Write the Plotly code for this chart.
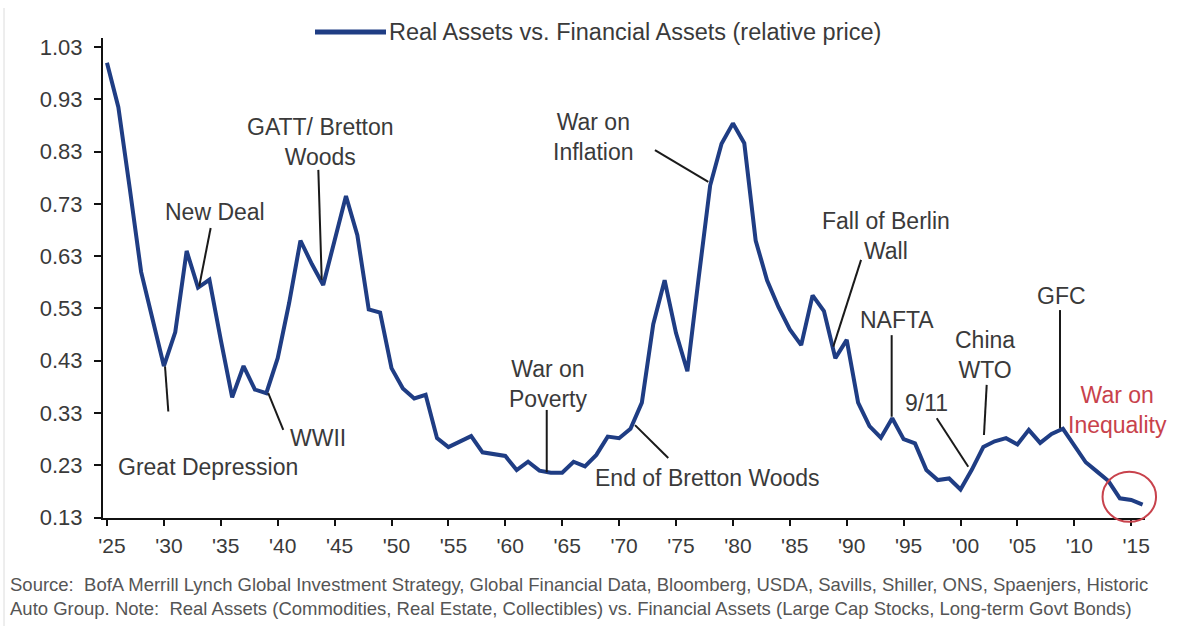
import plotly.graph_objects as go

# Relative price of real assets vs. financial assets, annual
years = list(range(1925, 2017))
relative_price = [
    1.00, 0.915, 0.76, 0.60, 0.51, 0.42, 0.485, 0.64, 0.57, 0.585,   # 1925-1934
    0.47, 0.36, 0.42, 0.375, 0.368, 0.435, 0.54, 0.66, 0.615, 0.575,  # 1935-1944
    0.66, 0.745, 0.67, 0.528, 0.522, 0.416, 0.377, 0.358, 0.365, 0.282,  # 1945-1954
    0.265, 0.275, 0.286, 0.255, 0.252, 0.248, 0.221, 0.237, 0.22, 0.216,  # 1955-1964
    0.216, 0.237, 0.228, 0.25, 0.285, 0.282, 0.30, 0.35, 0.50, 0.584,  # 1965-1974
    0.483, 0.41, 0.59, 0.765, 0.845, 0.884, 0.846, 0.66, 0.584, 0.533,  # 1975-1984
    0.49, 0.46, 0.555, 0.525, 0.435, 0.47, 0.35, 0.305, 0.283, 0.32,  # 1985-1994
    0.28, 0.272, 0.221, 0.202, 0.205, 0.184, 0.222, 0.265, 0.276, 0.282,  # 1995-2004
    0.27, 0.298, 0.273, 0.29, 0.30, 0.268, 0.236, 0.218, 0.20, 0.167,  # 2005-2014
    0.164, 0.155,  # 2015-2016
]
series_name = "Real Assets vs. Financial Assets (relative price)"

y_ticks = [0.13, 0.23, 0.33, 0.43, 0.53, 0.63, 0.73, 0.83, 0.93, 1.03]
x_ticks = list(range(1925, 2016, 5))
x_tick_labels = ["'25", "'30", "'35", "'40", "'45", "'50", "'55", "'60", "'65", "'70",
                 "'75", "'80", "'85", "'90", "'95", "'00", "'05", "'10", "'15"]

# Event labels: text, text anchor (year, value), leader line from -> to
events = [
    ("New Deal", (1934.5, 0.7145), (1934.11, 0.684), (1933.10, 0.572)),
    ("GATT/ Bretton<br>Woods", (1943.72, 0.849), (1943.57, 0.795), (1943.87, 0.585)),
    ("Great Depression", (1933.9, 0.227), (1930.39, 0.333), (1930.10, 0.419)),
    ("WWII", (1943.57, 0.282), (1940.49, 0.298), (1939.17, 0.368)),
    ("War on<br>Poverty", (1963.78, 0.385), (1963.64, 0.336), (1963.64, 0.217)),
    ("War on<br>Inflation", (1967.73, 0.857), (1973.15, 0.833), (1977.84, 0.772)),
    ("End of Bretton Woods", (1977.81, 0.205), (1971.40, 0.307), (1974.32, 0.244)),
    ("Fall of Berlin<br>Wall", (1993.41, 0.668), (1991.26, 0.623), (1988.82, 0.457)),
    ("NAFTA", (1994.44, 0.508), (1993.95, 0.479), (1993.95, 0.323)),
    ("9/11", (1997.03, 0.350), (1997.91, 0.320), (2000.68, 0.2275)),
    ("China<br>WTO", (2002.15, 0.441), (2002.30, 0.384), (2002.06, 0.288)),
    ("GFC", (2008.89, 0.553), (2008.74, 0.527), (2008.74, 0.301)),
]
highlight_label = "War on<br>Inequality"

LINE_COLOR = "#1f3d84"
TEXT_COLOR = "#3a3a3a"
RED = "#c8424c"
FONT = "Liberation Sans, Arial, sans-serif"
LABEL_SIZE = 23

X_RANGE = [1924.65, 2016.21]
Y_RANGE = [0.1294, 1.0472]

fig = go.Figure()
fig.add_trace(go.Scatter(
    x=years, y=relative_price, mode="lines", name=series_name,
    line=dict(color=LINE_COLOR, width=4), showlegend=False,
))

annotations = []
shapes = []
for text, (tx, ty), (x0, y0), (x1, y1) in events:
    annotations.append(dict(x=tx, y=ty, xref="x", yref="y", text=text, showarrow=False,
                            font=dict(family=FONT, size=LABEL_SIZE, color=TEXT_COLOR),
                            xanchor="center", yanchor="middle"))
    shapes.append(dict(type="line", xref="x", yref="y", x0=x0, y0=y0, x1=x1, y1=y1,
                       line=dict(color="#1a1a1a", width=2)))

annotations.append(dict(x=2013.78, y=0.3365, xref="x", yref="y", text=highlight_label,
                        showarrow=False, font=dict(family=FONT, size=LABEL_SIZE, color=RED),
                        xanchor="center", yanchor="middle"))


def to_paper_x(v):
    return (v - X_RANGE[0]) / (X_RANGE[1] - X_RANGE[0])


def to_paper_y(v):
    return (v - Y_RANGE[0]) / (Y_RANGE[1] - Y_RANGE[0])


# Circle around the latest readings (paper refs so it may cross the axis)
cx, cy, rx, ry = 2014.83, 0.170, 2.35, 0.048
shapes.append(dict(type="circle", xref="paper", yref="paper",
                   x0=to_paper_x(cx - rx), x1=to_paper_x(cx + rx),
                   y0=to_paper_y(cy - ry), y1=to_paper_y(cy + ry),
                   line=dict(color=RED, width=2)))

# Key at the top: line sample + series name
shapes.append(dict(type="line", xref="paper", yref="paper",
                   x0=(315 - 103) / 1042, x1=(386 - 103) / 1042,
                   y0=(518 - 32) / 480, y1=(518 - 32) / 480,
                   line=dict(color=LINE_COLOR, width=5)))
annotations.append(dict(x=(387 - 103) / 1042, y=(518 - 32) / 480, xref="paper", yref="paper",
                        text=series_name, showarrow=False, xanchor="left", yanchor="middle",
                        font=dict(family=FONT, size=23.5, color=TEXT_COLOR)))

# Faint frame edge on the left
shapes.append(dict(type="line", xref="paper", yref="paper",
                   x0=(4 - 103) / 1042, x1=(4 - 103) / 1042, y0=(518 - 8) / 480, y1=(518 - 626) / 480,
                   line=dict(color="#dcdcdc", width=1)))

source_text = ("Source:  BofA Merrill Lynch Global Investment Strategy, Global Financial Data, Bloomberg, "
               "USDA, Savills, Shiller, ONS, Spaenjers, Historic<br>"
               "Auto Group. Note:  Real Assets (Commodities, Real Estate, Collectibles) vs. Financial Assets "
               "(Large Cap Stocks, Long-term Govt Bonds)")
annotations.append(dict(x=(8 - 103) / 1042, y=(518 - 596) / 480, xref="paper", yref="paper",
                        text=source_text, showarrow=False, xanchor="left", yanchor="middle",
                        align="left",
                        font=dict(family="Liberation Sans Narrow, Arial Narrow, sans-serif",
                                  size=18.5, color="#555555")))

fig.update_layout(
    width=1188, height=626,
    margin=dict(l=103, r=43, t=38, b=108),
    paper_bgcolor="white", plot_bgcolor="white",
    font=dict(family=FONT, size=22, color=TEXT_COLOR),
    annotations=annotations, shapes=shapes,
    xaxis=dict(range=X_RANGE, tickvals=x_ticks, ticktext=x_tick_labels,
               showgrid=False, zeroline=False, showline=True, linecolor="#111111",
               linewidth=2, ticks="outside", ticklen=6, tickwidth=1.5, tickcolor="#111111",
               ticklabelshift=5, ticklabelstandoff=2,
               tickfont=dict(family=FONT, size=21, color=TEXT_COLOR)),
    yaxis=dict(range=Y_RANGE, tickvals=y_ticks, tickformat=".2f",
               showgrid=False, zeroline=False, showline=True, linecolor="#111111",
               linewidth=2, ticks="outside", ticklen=7, tickwidth=1.5, tickcolor="#111111",
               ticklabelstandoff=7,
               tickfont=dict(family=FONT, size=22, color=TEXT_COLOR)),
)

fig.write_html("out.html")
